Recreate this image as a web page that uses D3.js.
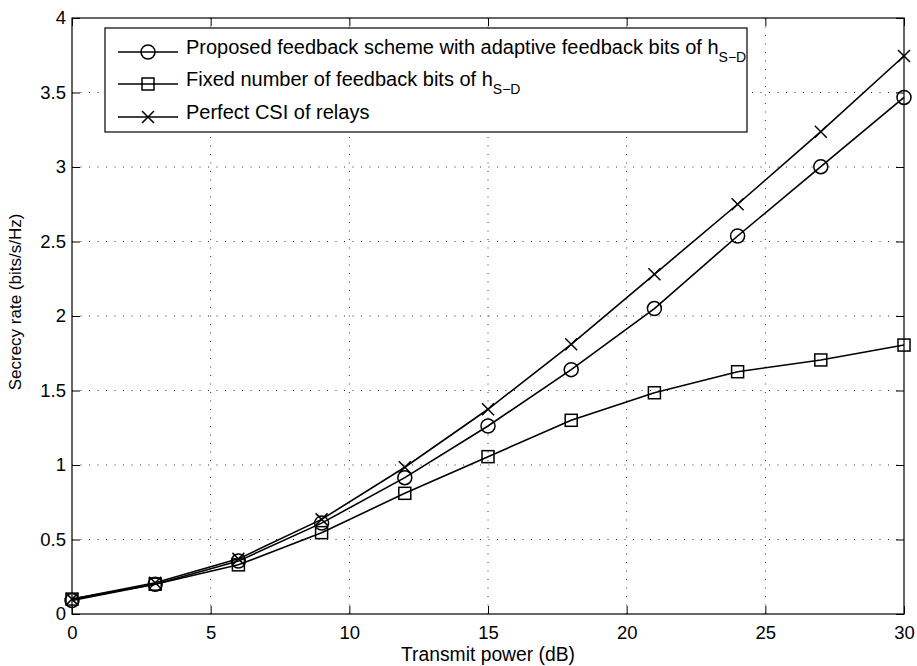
<!DOCTYPE html>
<html>
<head>
<meta charset="utf-8">
<script src="https://cdn.jsdelivr.net/npm/d3@7"></script>
<style>
  body { margin: 0; background: #fff; }
  text { font-family: "Liberation Sans", Arial, sans-serif; fill: #000; }
</style>
</head>
<body>
<div id="chart"></div>
<script>
// Data
var powerDb = [0, 3, 6, 9, 12, 15, 18, 21, 24, 27, 30];
var proposed = [0.09, 0.20, 0.355, 0.61, 0.915, 1.262, 1.64, 2.05, 2.537, 3.002, 3.467];
var fixedBits = [0.10, 0.20, 0.33, 0.546, 0.81, 1.056, 1.30, 1.485, 1.626, 1.705, 1.805];
var perfectCsi = [0.10, 0.21, 0.37, 0.635, 0.985, 1.374, 1.81, 2.28, 2.75, 3.237, 3.745];
var xTicks = [0, 5, 10, 15, 20, 25, 30];
var yTicks = [0, 0.5, 1, 1.5, 2, 2.5, 3, 3.5, 4];
var seriesNames = ["Proposed feedback scheme with adaptive feedback bits of h", "Fixed number of feedback bits of h", "Perfect CSI of relays"];

var svgWidth = 917, svgHeight = 666;
var margin = {top: 18, right: 13, bottom: 52, left: 72};
var width = svgWidth - margin.left - margin.right;
var height = svgHeight - margin.top - margin.bottom;

var svg = d3.select("#chart").append("svg")
  .attr("width", svgWidth)
  .attr("height", svgHeight);

var g = svg.append("g").attr("transform", `translate(${margin.left},${margin.top})`);

var x = d3.scaleLinear().domain([0, 30]).range([0, width]);
var y = d3.scaleLinear().domain([0, 4]).range([height, 0]);

// dotted grid
g.append("g").selectAll("line").data(xTicks.slice(1, -1)).enter().append("line")
  .attr("x1", d => x(d)).attr("x2", d => x(d)).attr("y1", 0).attr("y2", height)
  .attr("stroke", "#333").attr("stroke-width", 1).attr("stroke-dasharray", "1,7.5");
g.append("g").selectAll("line").data(yTicks.slice(1, -1)).enter().append("line")
  .attr("y1", d => y(d)).attr("y2", d => y(d)).attr("x1", 0).attr("x2", width)
  .attr("stroke", "#333").attr("stroke-width", 1).attr("stroke-dasharray", "1,7.5");

// axes (ticks inside, mirrored on top/right)
var fmt = d => d3.format("")(d);
var bottomAxis = d3.axisBottom(x).tickValues(xTicks).tickSizeInner(-8).tickSizeOuter(0).tickPadding(12).tickFormat(fmt);
var leftAxis = d3.axisLeft(y).tickValues(yTicks).tickSizeInner(-8).tickSizeOuter(0).tickPadding(6).tickFormat(fmt);
var topAxis = d3.axisTop(x).tickValues(xTicks).tickSizeInner(-8).tickSizeOuter(0).tickFormat("");
var rightAxis = d3.axisRight(y).tickValues(yTicks).tickSizeInner(-8).tickSizeOuter(0).tickFormat("");

function styleAxis(sel) {
  sel.select(".domain").remove();
  sel.selectAll("line").attr("stroke", "#000");
  sel.selectAll("text").style("font-family", "'Liberation Sans', Arial, sans-serif").style("font-size", "18.5px").attr("fill", "#000");
}
g.append("g").attr("transform", `translate(0,${height})`).call(bottomAxis).call(styleAxis);
g.append("g").call(leftAxis).call(styleAxis);
g.append("g").call(topAxis).call(styleAxis);
g.append("g").attr("transform", `translate(${width},0)`).call(rightAxis).call(styleAxis);

g.append("rect").attr("x", 0).attr("y", 0).attr("width", width).attr("height", height)
  .attr("fill", "none").attr("stroke", "#000").attr("stroke-width", 1.2);

// series
var line = d3.line().x((d, i) => x(powerDb[i])).y(d => y(d));
var series = [
  {values: proposed, marker: "circle"},
  {values: fixedBits, marker: "square"},
  {values: perfectCsi, marker: "cross"}
];

function drawMarker(sel, type, cx, cy) {
  if (type === "circle") {
    sel.append("circle").attr("cx", cx).attr("cy", cy).attr("r", 7)
      .attr("fill", "none").attr("stroke", "#000").attr("stroke-width", 1.5);
  } else if (type === "square") {
    sel.append("rect").attr("x", cx - 6).attr("y", cy - 6).attr("width", 12).attr("height", 12)
      .attr("fill", "none").attr("stroke", "#000").attr("stroke-width", 1.5);
  } else {
    sel.append("path").attr("d", `M${cx - 6},${cy - 6}L${cx + 6},${cy + 6}M${cx - 6},${cy + 6}L${cx + 6},${cy - 6}`)
      .attr("fill", "none").attr("stroke", "#000").attr("stroke-width", 1.5);
  }
}

series.forEach(s => {
  g.append("path").datum(s.values).attr("d", line)
    .attr("fill", "none").attr("stroke", "#000").attr("stroke-width", 1.6);
  var mg = g.append("g");
  s.values.forEach((v, i) => drawMarker(mg, s.marker, x(powerDb[i]), y(v)));
});

// legend
var lg = svg.append("g").attr("transform", "translate(105,28)");
lg.append("rect").attr("width", 642).attr("height", 104)
  .attr("fill", "#fff").attr("stroke", "#000").attr("stroke-width", 1.2);
var rowY = [24, 56, 89];
seriesNames.forEach((name, i) => {
  lg.append("line").attr("x1", 13).attr("x2", 73).attr("y1", rowY[i]).attr("y2", rowY[i])
    .attr("stroke", "#000").attr("stroke-width", 1.6);
  drawMarker(lg, series[i].marker, 43, rowY[i]);
  var t = lg.append("text").attr("x", 81).attr("y", rowY[i] + 2).style("font-size", "20px").text(name);
  if (i < 2) {
    t.append("tspan").attr("dy", 8).style("font-size", "14px").text("S\u2212D");
  }
});

// axis titles
svg.append("text").attr("x", margin.left + width / 2).attr("y", 661)
  .attr("text-anchor", "middle").style("font-size", "19.3px").text("Transmit power (dB)");
svg.append("text").attr("transform", "translate(21,302) rotate(-90)")
  .attr("text-anchor", "middle").style("font-size", "17px").text("Secrecy rate (bits/s/Hz)");
</script>
</body>
</html>
